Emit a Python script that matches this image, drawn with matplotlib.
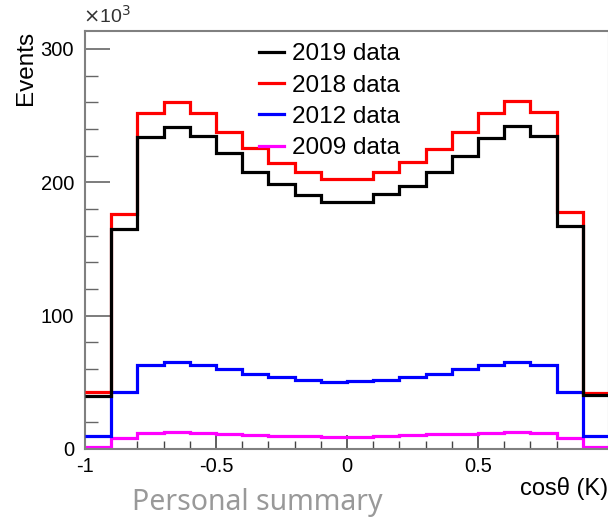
import matplotlib
matplotlib.use("Agg")
import matplotlib.pyplot as plt
import numpy as np
from matplotlib.ticker import MultipleLocator

plt.rcParams['font.family'] = ['Liberation Sans', 'DejaVu Sans']

edges = np.round(np.linspace(-1.0, 1.0, 21), 2)
labels = ["2019 data", "2018 data", "2012 data", "2009 data"]
colors = ["#000000", "#ff0000", "#0000ff", "#ff00ff"]

data_2019 = [40, 165, 234, 241.5, 235, 222, 207.5, 199, 190.5, 185.5,
             185, 191, 197, 207.5, 220, 233.5, 242, 234.5, 167, 40.5]
data_2018 = [42.5, 176.5, 252, 260, 252, 238, 225.5, 214.5, 208, 202.5,
             202.5, 208, 215.5, 225, 238, 252, 261, 252.5, 178, 42]
data_2012 = [9.5, 42.5, 63, 65, 63, 60, 56.5, 54, 52, 50,
             51, 52, 54, 56.5, 60, 63.2, 65, 63.2, 43, 9.5]
data_2009 = [1.3, 8, 12, 12.7, 12.3, 11.3, 10.5, 10, 9.5, 9.3,
             9.3, 9.8, 10.5, 11, 11.3, 12, 12.7, 12, 8, 1.3]

W, H = 608, 518
fig = plt.figure(figsize=(W/100, H/100), dpi=100)
ax = fig.add_axes([85/W, (H-449)/H, 524/W, (449-31)/H])

series = [data_2019, data_2018, data_2012, data_2009]
zorders = [5, 4, 3, 2]
for vals, lab, col, z in zip(series, labels, colors, zorders):
    ax.stairs(vals, edges, baseline=None, color=col, lw=2.3, zorder=z, label=lab)

ax.set_xlim(-1, 1)
ax.set_ylim(0, 313.5)

ax.xaxis.set_minor_locator(MultipleLocator(0.1))
ax.yaxis.set_minor_locator(MultipleLocator(20))
ax.set_xticks([-1, -0.5, 0, 0.5])
ax.set_xticklabels(["-1", "-0.5", "0", "0.5"])
ax.set_yticks([0, 100, 200, 300])
ax.set_yticklabels(["0", "100", "200", "300"])

ax.tick_params(axis='y', which='major', direction='in', length=18, width=1.2, color='#666666',
               labelsize=14.5, pad=8, right=False)
ax.tick_params(axis='y', which='minor', direction='in', length=9, width=1.0, color='#666666', right=False)
ax.tick_params(axis='x', which='major', direction='in', length=10, width=1.2, color='#444444',
               labelsize=14.5, pad=6, top=False)
ax.tick_params(axis='x', which='minor', direction='in', length=6, width=1.0, color='#444444', top=False)

for s in ax.spines.values():
    s.set_color('#808080')
    s.set_linewidth(1.5)

fig.text(26/W, (H-31)/H, "Events", rotation=90, ha='center', va='top', fontsize=17.5)
fig.text(83/W, (H-27)/H, r"$\times$10$^{3}$", ha='left', va='bottom', fontsize=14, color='#333333')
fig.text(608/W, (H-500)/H, "cos\u03b8 (K)", ha='right', va='bottom', fontsize=17)
fig.text(257/W, (H-517)/H, "Personal summary", ha='center', va='bottom', fontsize=20.5,
         color='#999999', family=['Noto Sans', 'DejaVu Sans'])

ax.legend(handles=[plt.Line2D([], [], color=c, lw=2.3) for c in colors], labels=labels,
          loc='upper left', bbox_to_anchor=((258-85)/524 - 0.031, 1.012), frameon=False,
          fontsize=17.5, handlelength=1.05, handletextpad=0.3, labelspacing=0.39,
          borderaxespad=0.3)

fig.savefig("out.png", dpi=100)
